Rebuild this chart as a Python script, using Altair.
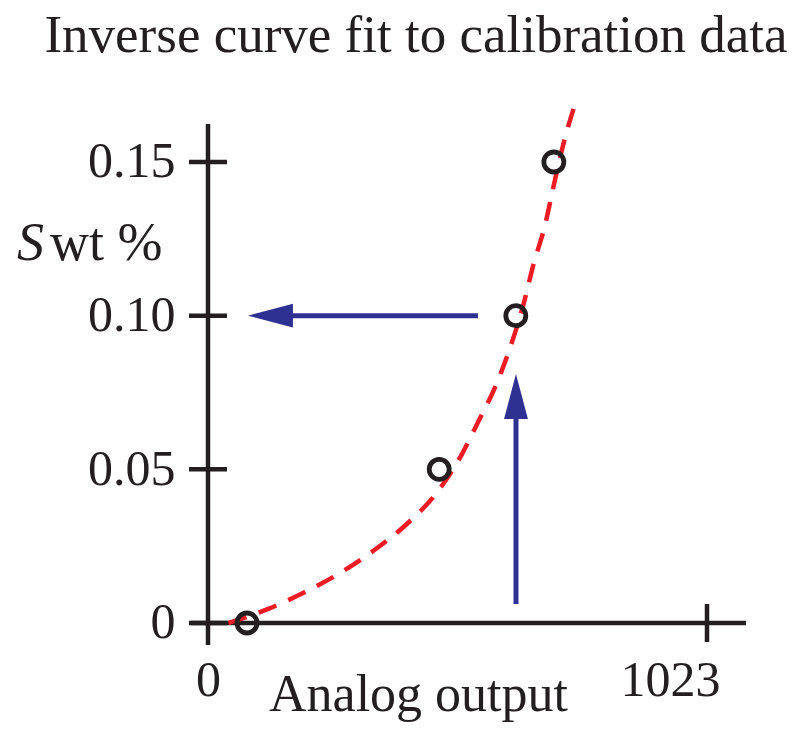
import altair as alt
import pandas as pd

# ---- text ----
title_text = "Inverse curve fit to calibration data"
x_title = "Analog output"
y_title_italic = "S"
y_title_rest = "wt %"

# ---- axes ----
x_tick_values = [0, 1023]
y_tick_values = [0, 0.05, 0.10, 0.15]
x_domain = [-34.85, 1102.95]
y_domain = [-0.00716, 0.16236]

# ---- calibration points ----
point_x = [80, 474, 631, 709]
point_y = [0.0, 0.05, 0.10, 0.15]

# ---- fitted inverse curve ----
curve_x = [42, 60, 122, 199, 273, 346, 411, 469, 517, 554, 592, 616, 646, 667, 691, 709, 728, 752]
curve_y = [0.0, 0.0009, 0.0045, 0.0101, 0.0165, 0.0243, 0.0327, 0.0424, 0.0539,
           0.0655, 0.0780, 0.0881, 0.1032, 0.1165, 0.1295, 0.1425, 0.1555, 0.1686]

# ---- arrows ----
h_arrow_x = [160, 553.5]
h_arrow_y = 0.10
h_head_x = 128
v_arrow_x = 631.4
v_arrow_y = [0.0062, 0.068]
v_head_y = 0.0737

BLACK = "#231F20"
RED = "#ED1C24"
BLUE = "#2E3192"
FONT = "Liberation Serif"

xscale = alt.Scale(domain=x_domain, nice=False, zero=False)
yscale = alt.Scale(domain=y_domain, nice=False, zero=False)

xaxis = alt.Axis(
    values=x_tick_values, format="d", domain=False, ticks=False, tickSize=0, grid=False,
    labelFont=FONT, labelFontSize=50, labelColor=BLACK, labelPadding=10,
    labelOffset={"condition": {"test": "datum.value == 1023", "value": -37}, "value": 0},
    title=x_title, titleFont=FONT, titleFontSize=52, titleFontWeight="normal", titleColor=BLACK,
    titleX=227, titleY=65, titleAlign="center", titleBaseline="alphabetic", labelFlush=False,
)
yaxis = alt.Axis(
    values=y_tick_values, domain=False, ticks=False, tickSize=0, grid=False,
    labelExpr="datum.value == 0 ? '0' : format(datum.value, '.2f')",
    labelFont=FONT, labelFontSize=50, labelColor=BLACK, labelPadding=16, labelFlush=False,
    title="",
)


def X(field):
    return alt.X(field, type="quantitative", scale=xscale, axis=xaxis)


def Y(field):
    return alt.Y(field, type="quantitative", scale=yscale, axis=yaxis)


axis_x_df = pd.DataFrame({"x": [x_domain[0]], "x2": [x_domain[1]], "y": [0.0]})
axis_y_df = pd.DataFrame({"x": [0.0], "y": [y_domain[0]], "y2": [y_domain[1]]})
ytick_df = pd.DataFrame({"x": [0.0] * len(y_tick_values), "y": y_tick_values})
xtick_df = pd.DataFrame({"x": [x_tick_values[1]], "y": [0.0]})
curve_df = pd.DataFrame({"x": curve_x, "y": curve_y})
points_df = pd.DataFrame({"x": point_x, "y": point_y})
h_shaft_df = pd.DataFrame({"x": [h_arrow_x[0]], "x2": [h_arrow_x[1]], "y": [h_arrow_y]})
v_shaft_df = pd.DataFrame({"x": [v_arrow_x], "y": [v_arrow_y[0]], "y2": [v_arrow_y[1]]})
h_head_df = pd.DataFrame({"x": [h_head_x], "y": [h_arrow_y]})
v_head_df = pd.DataFrame({"x": [v_arrow_x], "y": [v_head_y]})

axis_x_line = alt.Chart(axis_x_df).mark_rule(color=BLACK, strokeWidth=4.5).encode(
    x=X("x"), x2=alt.X2("x2"), y=Y("y"))
axis_y_line = alt.Chart(axis_y_df).mark_rule(color=BLACK, strokeWidth=4.5).encode(
    x=X("x"), y=Y("y"), y2=alt.Y2("y2"))
yticks = alt.Chart(ytick_df).mark_tick(color=BLACK, orient="horizontal", size=38, thickness=4.5, opacity=1).encode(
    x=X("x"), y=Y("y"))
xticks = alt.Chart(xtick_df).mark_tick(color=BLACK, orient="vertical", size=38, thickness=4.5, opacity=1).encode(
    x=X("x"), y=Y("y"))
curve = alt.Chart(curve_df).mark_line(color=RED, strokeWidth=4.5, strokeDash=[19, 13], interpolate="monotone").encode(
    x=X("x"), y=Y("y"), order=alt.Order("x:Q"))
points = alt.Chart(points_df).mark_point(shape="circle", size=400, filled=False, color=BLACK,
                                         strokeWidth=4.8, opacity=1).encode(x=X("x"), y=Y("y"))
h_shaft = alt.Chart(h_shaft_df).mark_rule(color=BLUE, strokeWidth=5).encode(
    x=X("x"), x2=alt.X2("x2"), y=Y("y"))
v_shaft = alt.Chart(v_shaft_df).mark_rule(color=BLUE, strokeWidth=5).encode(
    x=X("x"), y=Y("y"), y2=alt.Y2("y2"))
h_head = alt.Chart(h_head_df).mark_point(shape="M-1,0L1,-0.53L1,0.53Z", size=2025, filled=True,
                                         color=BLUE, opacity=1, strokeWidth=0).encode(x=X("x"), y=Y("y"))
v_head = alt.Chart(v_head_df).mark_point(shape="M0,-1L0.53,1L-0.53,1Z", size=2025, filled=True,
                                         color=BLUE, opacity=1, strokeWidth=0).encode(x=X("x"), y=Y("y"))

title_mark = alt.Chart(pd.DataFrame({"t": [title_text]})).mark_text(
    align="center", baseline="alphabetic", font=FONT, fontSize=53, color=BLACK
).encode(x=alt.value(225), y=alt.value(-72), text="t:N")
s_text = alt.Chart(pd.DataFrame({"t": [y_title_italic]})).mark_text(
    align="left", baseline="alphabetic", font=FONT, fontSize=54, fontStyle="italic", color=BLACK
).encode(x=alt.value(-174), y=alt.value(136), text="t:N")
wt_text = alt.Chart(pd.DataFrame({"t": [y_title_rest]})).mark_text(
    align="left", baseline="alphabetic", font=FONT, fontSize=54, color=BLACK
).encode(x=alt.value(-141), y=alt.value(136), text="t:N")

chart = alt.layer(
    axis_x_line, axis_y_line, yticks, xticks, curve, points, h_shaft, v_shaft, h_head, v_head,
    title_mark, s_text, wt_text
).properties(
    width=555, height=521,
    autosize=alt.AutoSizeParams(type="none"),
    padding={"left": 191, "top": 124, "right": 66, "bottom": 88},
).configure(background="white").configure_view(stroke=None)

chart.save("out.html", embed_options={"renderer": "svg", "actions": False})
